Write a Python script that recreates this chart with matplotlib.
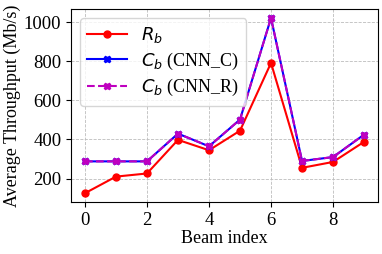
import matplotlib
matplotlib.use("Agg")
import matplotlib.pyplot as plt

beam = list(range(10))
r_b = [125, 210, 226, 398, 345, 445, 792, 255, 285, 388]
c_b_cnn_c = [288, 288, 288, 430, 365, 502, 1022, 290, 310, 425]
c_b_cnn_r = [288, 288, 288, 430, 365, 502, 1022, 290, 310, 425]

plt.rcParams['font.family'] = ['Liberation Serif', 'DejaVu Serif']
plt.rcParams['mathtext.fontset'] = 'dejavusans'

fig = plt.figure(figsize=(3.82, 2.54), dpi=100)
ax = fig.add_axes([71/382, 1-202/254, (378-71)/382, (202-9)/254])
ax.plot(beam, r_b, 'r-', marker='o', markersize=5, label=r'$R_b$')
ax.plot(beam, c_b_cnn_c, 'b-', marker='X', markersize=5, label=r'$C_b$ (CNN_C)')
ax.plot(beam, c_b_cnn_r, 'm--', marker='X', markersize=5, label=r'$C_b$ (CNN_R)')
ax.set_ylim(80, 1068)
ax.set_xticks([0, 2, 4, 6, 8])
ax.set_yticks([200, 400, 600, 800, 1000])
ax.tick_params(labelsize=13.5)
ax.grid(True, linestyle='--', color='#bdbdbd', linewidth=0.6)
ax.set_xlabel('Beam index', fontsize=13, labelpad=1)
ax.set_ylabel('Average Throughput (Mb/s)', fontsize=13, labelpad=2)
ax.legend(loc='upper left', fontsize=13, handlelength=2.2, borderpad=0.4, labelspacing=0.3)
fig.savefig('out.png', dpi=100)
